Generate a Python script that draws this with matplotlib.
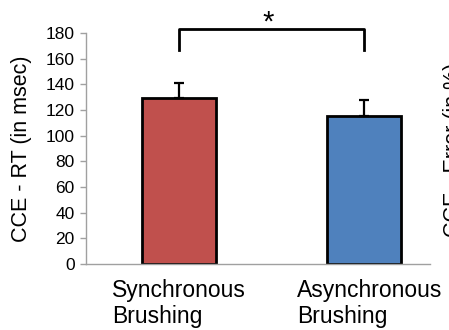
import matplotlib.pyplot as plt
import matplotlib.transforms as mtransforms
import numpy as np

plt.rcParams['font.family'] = ['Liberation Sans', 'DejaVu Sans']

labels = ['Synchronous\nBrushing', 'Asynchronous\nBrushing']
rt_means = [129, 115]
rt_err = [12, 13]
colors = ['#C0504D', '#4F81BD']
yticks = [0, 20, 40, 60, 80, 100, 120, 140, 160, 180]

fig = plt.figure(figsize=(4.49, 3.30), dpi=100)
ax = fig.add_axes([0.1915, 0.2, 0.7665, 0.7])

x = np.arange(len(labels))
ax.bar(x, rt_means, width=0.4, color=colors, edgecolor='black', linewidth=2, zorder=2)
ax.errorbar(x, rt_means, yerr=[np.zeros(2), rt_err], fmt='none', ecolor='black',
            elinewidth=1.6, capsize=3.5, capthick=1.6, zorder=3)

# significance bracket
ax.plot([0, 0, 1, 1], [167, 183, 183, 167], color='black', lw=2, clip_on=False)
ax.text(0.48, 188, '*', ha='center', va='center', fontsize=21, clip_on=False)

ax.set_xlim(-0.503, 1.357)
ax.set_ylim(0, 180)
ax.set_yticks(yticks)
ax.set_xticks(x)
ax.set_xticklabels(labels, fontsize=16.5, ha='left', multialignment='left',
                   linespacing=1.15)
ax.tick_params(axis='x', length=0, pad=11)
ax.tick_params(axis='y', labelsize=12.5, color='#A0A0A0', length=4, width=1, pad=4)
ax.set_ylabel('CCE - RT (in msec)', fontsize=15.5, labelpad=10)

for s in ['top', 'right']:
    ax.spines[s].set_visible(False)
for s in ['left', 'bottom']:
    ax.spines[s].set_color('#A0A0A0')
    ax.spines[s].set_linewidth(1)

# shift category labels so they start left of bar centres
shift = mtransforms.ScaledTranslation(-67 / 100, 0, fig.dpi_scale_trans)
for lbl in ax.get_xticklabels():
    lbl.set_transform(lbl.get_transform() + shift)

# neighbouring panel label, cut off at the edge
fig.text(0.986, 0.545, 'CCE - Error (in %)', rotation=90, ha='left', va='center', fontsize=15.5)

fig.savefig('out.png', dpi=100)
